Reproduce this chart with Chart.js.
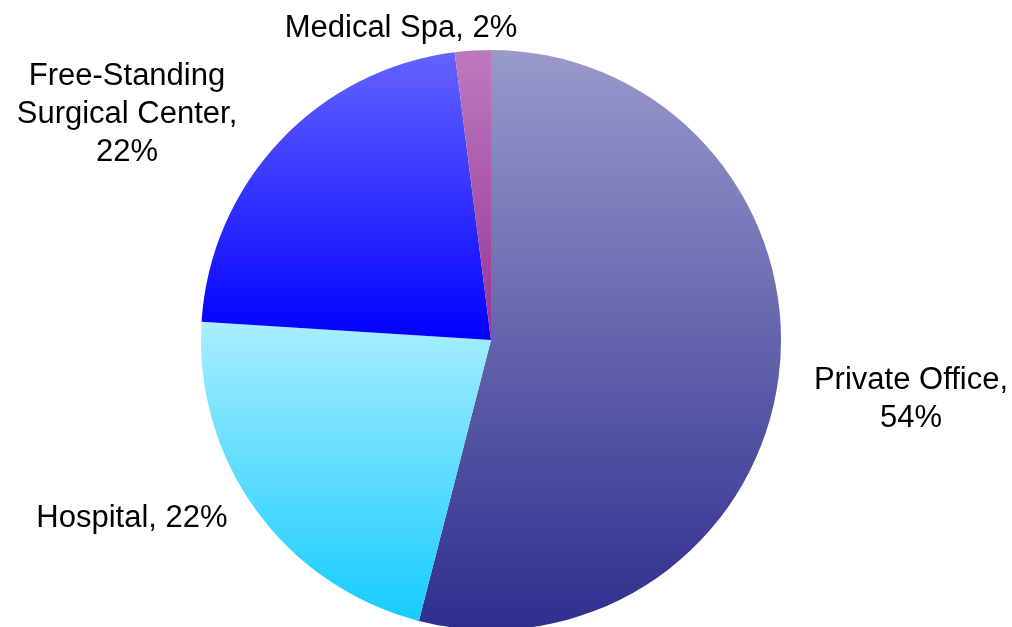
<!DOCTYPE html>
<html><head><meta charset="utf-8">
<script src="https://cdn.jsdelivr.net/npm/chart.js@4/dist/chart.umd.min.js"></script>
<style>html,body{margin:0;padding:0;background:#fff;overflow:hidden}
#wrap{position:relative;width:1012px;height:680px}</style></head>
<body><div id="wrap"><canvas id="c" width="1012" height="680"></canvas></div>
<script>
const categories = ["Private Office", "Hospital", "Free-Standing Surgical Center", "Medical Spa"];
const values = [54, 22, 22, 2];
const labelLines = [["Private Office,", "54%"], ["Hospital, 22%"], ["Free-Standing", "Surgical Center,", "22%"], ["Medical Spa, 2%"]];
const topColors = ["#9999CC", "#A8EEFF", "#6464FF", "#BE7ABE"];
const bottomColors = ["#2E2E8E", "#14CCFF", "#0000FF", "#963496"];

// label layout (text anchor: centre x, first baseline y)
const labelPos = [[911, 389], [132, 527], [127, 85], [401, 37]];
const lineHeight = 38;

function geom(chart) {
  const a = chart.chartArea;
  return {cx: (a.left + a.right) / 2, cy: (a.top + a.bottom) / 2, r: Math.min(a.right - a.left, a.bottom - a.top) / 2};
}
function sliceGradient(context) {
  const chart = context.chart, i = context.dataIndex;
  if (!chart.chartArea) return bottomColors[i];
  const {cx, cy, r} = geom(chart);
  const total = values.reduce((s, v) => s + v, 0);
  let before = 0;
  for (let k = 0; k < i; k++) before += values[k];
  const a0 = -Math.PI / 2 + before / total * 2 * Math.PI;
  const a1 = a0 + values[i] / total * 2 * Math.PI;
  const ys = [cy, cy + r * Math.sin(a0), cy + r * Math.sin(a1)];
  const inArc = (t) => { for (let k = -2; k <= 2; k++) { const tt = t + k * 2 * Math.PI; if (tt >= a0 && tt <= a1) return true; } return false; };
  if (inArc(-Math.PI / 2)) ys.push(cy - r);
  if (inArc(Math.PI / 2)) ys.push(cy + r);
  const y0 = Math.min(...ys), y1 = Math.max(...ys);
  const g = chart.ctx.createLinearGradient(0, y0, 0, y1);
  g.addColorStop(0, topColors[i]);
  g.addColorStop(1, bottomColors[i]);
  return g;
}

const labelPlugin = {
  id: 'outLabels',
  afterDraw(chart) {
    const ctx = chart.ctx;
    ctx.save();
    ctx.fillStyle = '#000';
    ctx.font = '31px "Liberation Sans", Arial, sans-serif';
    ctx.textAlign = 'center';
    ctx.textBaseline = 'alphabetic';
    labelLines.forEach((lines, i) => {
      lines.forEach((t, j) => ctx.fillText(t, labelPos[i][0], labelPos[i][1] + j * lineHeight));
    });
    ctx.restore();
  }
};

new Chart(document.getElementById('c'), {
  type: 'pie',
  data: {labels: categories, datasets: [{data: values, backgroundColor: sliceGradient, borderWidth: 0, hoverOffset: 0}]},
  options: {
    responsive: false, animation: false,
    layout: {padding: {top: 50, bottom: 50, left: 0, right: 30}},
    plugins: {legend: {display: false}, tooltip: {enabled: false}}
  },
  plugins: [labelPlugin]
});
</script></body></html>
